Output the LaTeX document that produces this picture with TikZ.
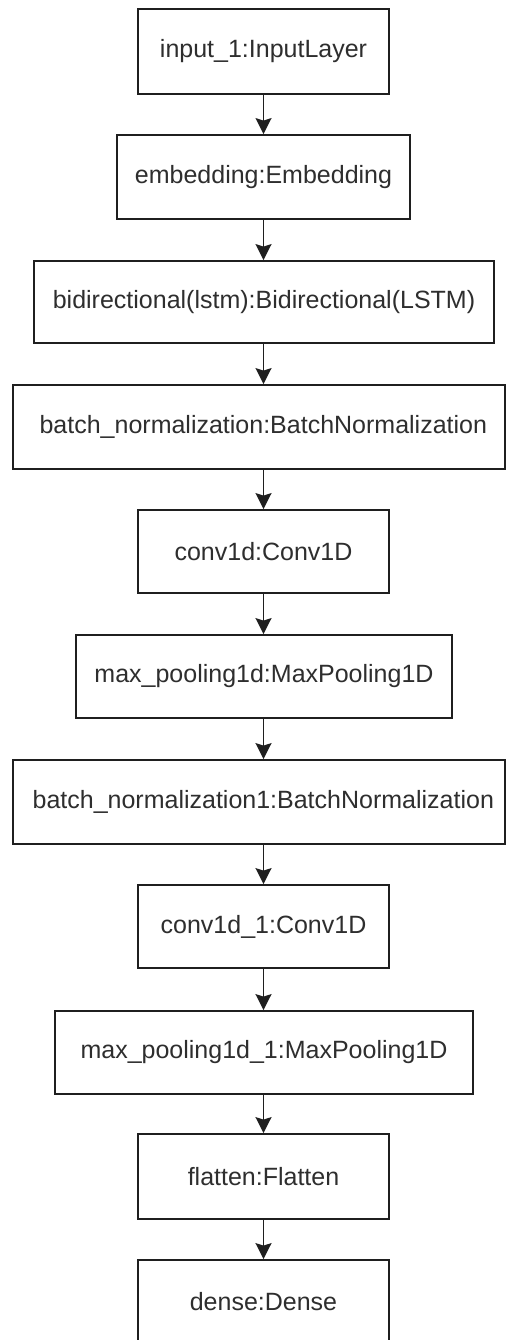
\documentclass[tikz,border=0pt]{standalone}
\usepackage{fontspec}
\setmainfont{Liberation Sans}
\usetikzlibrary{arrows.meta}
\begin{document}
\begin{tikzpicture}[x=1pt,y=-1pt,
  layer/.style={draw=black!88, line width=1.8pt, fill=white, text=black!82,
    font=\fontsize{25}{30}\selectfont, inner sep=0pt, minimum height=84pt},
  wide/.style={layer, minimum width=492pt, execute at begin node={\hspace*{9pt}}},
  flow/.style={line width=1.6pt, draw=black!88,
    -{Stealth[length=16pt,width=16pt,inset=2.5pt]}}]
\clip (0,0) rectangle (506,1340);
\fill[white] (0,0) rectangle (506,1340);

% layer boxes, top to bottom
\node[layer, minimum width=251pt, minimum height=85pt] (n1) at (263.5,51.5) {input\_1:InputLayer};
\node[layer, minimum width=293pt] (n2) at (263.5,177) {embedding:Embedding};
\node[layer, minimum width=460pt, minimum height=82pt] (n3) at (264,302) {bidirectional(lstm):Bidirectional(LSTM)};
\node[wide] (n4) at (258.8,427) {batch\_normalization:BatchNormalization};
\node[layer, minimum width=251pt, minimum height=83pt] (n5) at (263.5,551.5) {conv1d:Conv1D};
\node[layer, minimum width=376pt, minimum height=83pt] (n6) at (264,676.5) {max\_pooling1d:MaxPooling1D};
\node[wide] (n7) at (258.8,802) {batch\_normalization1:BatchNormalization};
\node[layer, minimum width=251pt, minimum height=83pt] (n8) at (263.5,926.5) {conv1d\_1:Conv1D};
\node[layer, minimum width=418pt, minimum height=83pt] (n9) at (264,1052.5) {max\_pooling1d\_1:MaxPooling1D};
\node[layer, minimum width=251pt, minimum height=85pt] (n10) at (263.5,1176.5) {flatten:Flatten};
\node[layer, minimum width=251pt] (n11) at (263.5,1302) {dense:Dense};

% connectors
\draw[flow] (n1.south) -- (n2.north);
\draw[flow] (n2.south) -- (n2.south |- n3.north);
\draw[flow] (n3.south -| n1.south) -- (n1.south |- n4.north);
\draw[flow] (n1.south |- n4.south) -- (n5.north);
\draw[flow] (n5.south) -- (n5.south |- n6.north);
\draw[flow] (n6.south -| n5.south) -- (n5.south |- n7.north);
\draw[flow] (n5.south |- n7.south) -- (n8.north);
\draw[flow] (n8.south) -- (n8.south |- n9.north);
\draw[flow] (n9.south -| n8.south) -- (n10.north);
\draw[flow] (n10.south) -- (n11.north);
\end{tikzpicture}
\end{document}
